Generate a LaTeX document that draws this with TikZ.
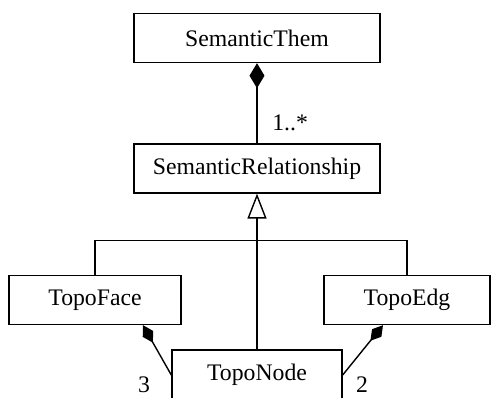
\documentclass[tikz,border=0pt]{standalone}
\usepackage{fontspec}
\setmainfont{Liberation Serif}
\usetikzlibrary{arrows.meta,positioning,calc}
\tikzset{
  classbox/.style={draw, line width=0.8pt, align=center, font=\fontsize{13.5}{16}\selectfont,
    minimum height=0.98cm, inner sep=0pt},
  compline/.style={{Diamond[length=5mm, width=3mm, fill=black]}-, line width=0.8pt},
  genline/.style={-{Triangle[open, length=5mm, width=3.8mm]}, line width=0.8pt},
  multlabel/.style={font=\fontsize{13.5}{16}\selectfont, inner sep=0pt}
}

\begin{document}
\begin{tikzpicture}[node distance=1.6cm]
    \useasboundingbox (0,0) rectangle (9.86,-7.96);
    \node[classbox, minimum width=4.92cm] (them) at (5.14,-0.76) {SemanticThem};
    \node[classbox, minimum width=4.92cm, below=of them] (rel) {SemanticRelationship};
    \node[classbox, minimum width=3.44cm] (face) at (1.90,-6.0) {TopoFace};
    \node[classbox, minimum width=3.32cm] (edg) at (8.14,-6.0) {TopoEdg};
    \node[classbox, minimum width=3.4cm, minimum height=1.0cm] (topo) at (5.14,-7.5) {TopoNode};
    \coordinate (branch) at (5.14,-4.81);
    \draw[compline] (them) -- (rel);
    \draw[genline] (topo) -- (rel);
    \draw[line width=0.8pt] (face.north) |- (branch) -| (edg.north);
    \draw[compline, {Diamond[length=4mm, width=2.4mm, fill=black]}-] ([xshift=0.96cm]face.south) -- (topo.west);
    \draw[compline, {Diamond[length=4mm, width=2.4mm, fill=black]}-] ([xshift=-0.48cm]edg.south) -- (topo.east);
    \node[multlabel, anchor=west] (m1) at (5.44,-2.46) {1..*};
    \node[multlabel] (m3) at (2.88,-7.7) {3};
    \node[multlabel] (m2) at (7.24,-7.7) {2};
  \end{tikzpicture}
\end{document}
